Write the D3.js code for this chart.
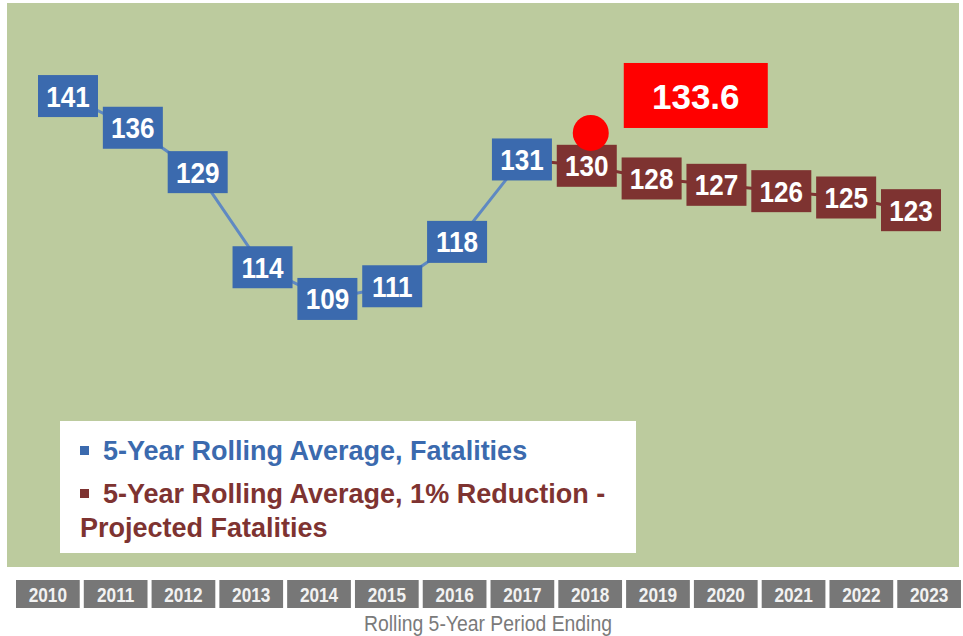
<!DOCTYPE html>
<html lang="en">

<head>
    <meta charset="UTF-8">
    <script src="https://d3js.org/d3.v7.min.js"></script>
    <title>Rolling 5-Year Fatalities</title>
    <style>
        body { margin: 0; background: #fff; }
        svg { display: block; }
        .narrow { font-family: "Liberation Sans Narrow", "Arial Narrow", "Liberation Sans", sans-serif; }
    </style>
</head>

<body>
    <div id="chart"></div>
    <script>
        // Data
        const years = [2010, 2011, 2012, 2013, 2014, 2015, 2016, 2017, 2018, 2019, 2020, 2021, 2022, 2023];
        const actualYears = [2010, 2011, 2012, 2013, 2014, 2015, 2016, 2017];
        const actualValues = [141, 136, 129, 114, 109, 111, 118, 131];
        const projectedYears = [2018, 2019, 2020, 2021, 2022, 2023];
        const projectedValues = [130, 128, 127, 126, 125, 123];
        const targetYear = 2018;
        const targetValue = 133.6;
        const legendLabels = [
            ["5-Year Rolling Average, Fatalities"],
            ["5-Year Rolling Average, 1% Reduction -", "Projected Fatalities"]
        ];
        const axisTitle = "Rolling 5-Year Period Ending";

        const actual = actualYears.map((d, i) => ({ year: d, value: actualValues[i] }));
        const projected = projectedYears.map((d, i) => ({ year: d, value: projectedValues[i] }));

        const blue = "#3b6aae";
        const brown = "#7e3331";

        // Chart dimensions
        const width = 963;
        const height = 636;

        const svg = d3.select("#chart")
            .append("svg")
            .attr("width", width)
            .attr("height", height);

        // Green plot background
        svg.append("rect")
            .attr("x", 7)
            .attr("y", 3)
            .attr("width", 952)
            .attr("height", 564)
            .attr("fill", "#bccb9e");

        // Scales
        const x = d3.scalePoint()
            .domain(years)
            .range([68, 911]);

        const y = d3.scaleLinear()
            .domain([100, 150])
            .range([356, 39]);

        const xBand = d3.scaleBand()
            .domain(years)
            .range([16, 961])
            .paddingInner(0.06)
            .paddingOuter(0);

        // Lines
        const line = d3.line()
            .x(d => x(d.year))
            .y(d => y(d.value));

        svg.append("path")
            .datum(actual)
            .attr("d", line)
            .attr("fill", "none")
            .attr("stroke", "#5f89c2")
            .attr("stroke-width", 3);

        svg.append("path")
            .datum([actual[actual.length - 1]].concat(projected))
            .attr("d", line)
            .attr("fill", "none")
            .attr("stroke", brown)
            .attr("stroke-width", 3);

        // Data label boxes
        const boxW = 60;
        const boxH = 42;

        function drawBoxes(data, color) {
            const g = svg.append("g")
                .selectAll("g")
                .data(data)
                .join("g")
                .attr("transform", d => `translate(${x(d.year)},${y(d.value)})`);

            g.append("rect")
                .attr("x", -boxW / 2)
                .attr("y", -boxH / 2)
                .attr("width", boxW)
                .attr("height", boxH)
                .attr("fill", color);

            g.append("text")
                .attr("class", "narrow")
                .attr("text-anchor", "middle")
                .attr("dy", "0.36em")
                .attr("transform", "scale(0.9,1)")
                .attr("fill", "#fff")
                .attr("font-size", 29)
                .attr("font-weight", "bold")
                .text(d => d.value);
        }

        drawBoxes(actual, blue);
        drawBoxes(projected, brown);

        // Target annotation
        svg.append("circle")
            .attr("cx", x(targetYear) + 4)
            .attr("cy", y(targetValue) - 10)
            .attr("r", 18)
            .attr("fill", "#ff0000");

        const tx = x(targetYear) + 37;
        const ty = y(targetValue) - 80;
        svg.append("rect")
            .attr("x", tx)
            .attr("y", ty)
            .attr("width", 144)
            .attr("height", 65)
            .attr("fill", "#ff0000");

        svg.append("text")
            .attr("x", tx + 72)
            .attr("y", ty + 33)
            .attr("dy", "0.36em")
            .attr("text-anchor", "middle")
            .attr("fill", "#fff")
            .attr("font-family", "Liberation Sans, Arial, sans-serif")
            .attr("font-weight", "bold")
            .attr("font-size", 35)
            .text(targetValue);

        // Legend
        svg.append("rect")
            .attr("x", 60)
            .attr("y", 421)
            .attr("width", 576)
            .attr("height", 132)
            .attr("fill", "#fff");

        const legendColors = [blue, brown];
        const legendY = [460, 503];
        legendLabels.forEach((lines, i) => {
            svg.append("rect")
                .attr("x", 80)
                .attr("y", legendY[i] - 14)
                .attr("width", 9)
                .attr("height", 9)
                .attr("fill", legendColors[i]);
            lines.forEach((t, j) => {
                svg.append("text")
                    .attr("class", "narrow")
                    .attr("x", j === 0 ? 103 : 80)
                    .attr("y", legendY[i] + j * 34)
                    .attr("fill", legendColors[i])
                    .attr("font-size", 27)
                    .attr("font-weight", "bold")
                    .text(t);
            });
        });

        // Year boxes along the bottom
        const yearG = svg.append("g")
            .selectAll("g")
            .data(years)
            .join("g")
            .attr("transform", d => `translate(${xBand(d)},580)`);

        yearG.append("rect")
            .attr("width", xBand.bandwidth())
            .attr("height", 28)
            .attr("fill", "#777");

        yearG.append("text")
            .attr("class", "narrow")
            .attr("transform", `translate(${xBand.bandwidth() / 2},14) scale(0.82,1)`)
            .attr("dy", "0.36em")
            .attr("text-anchor", "middle")
            .attr("fill", "#f2f2f2")
            .attr("font-size", 21)
            .attr("font-weight", "bold")
            .text(d => d);

        svg.append("text")
            .attr("class", "narrow")
            .attr("transform", "translate(488,631) scale(0.88,1)")
            .attr("text-anchor", "middle")
            .attr("fill", "#7a7a7a")
            .attr("font-size", 22)
            .text(axisTitle);
    </script>
</body>

</html>
